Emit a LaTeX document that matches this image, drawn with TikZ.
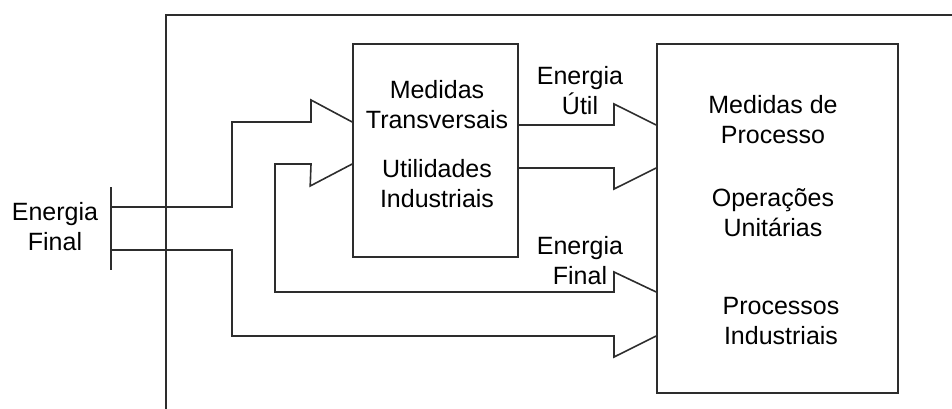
\documentclass[tikz,border=0pt]{standalone}
\usepackage{fontspec}
\setmainfont{Liberation Sans}
\usetikzlibrary{calc}
\definecolor{ink}{RGB}{45,45,45}
\tikzset{
  frame/.style={line width=1.6pt,draw=ink},
  block/.style={rectangle,line width=1.6pt,draw=ink,fill=white,inner sep=0pt},
  flow/.style={line width=1.6pt,draw=ink,line join=miter},
  txt/.style={align=center,text=black,inner sep=0pt,font=\fontsize{25}{30}\selectfont}
}
\begin{document}
\begin{tikzpicture}[x=1pt,y=-1pt]
  \useasboundingbox (0,0) rectangle (952,409);

  % outer frame (left and top edges only)
  \draw[frame] (166,409) -- (166,15) -- (952,15);

  % the two boxes
  \node[block,minimum width=165pt,minimum height=213pt] (mid) at (435.5,150.5) {};
  \node[block,minimum width=241pt,minimum height=349pt] (proc) at (777.5,218.5) {};

  % input bar
  \coordinate (bartop) at (111,187);
  \coordinate (barbot) at (111,270);
  \draw[frame] (bartop) -- (barbot);
  \coordinate (inA) at (111,207);
  \coordinate (inB) at (111,250);

  % heads of the block arrows
  \coordinate (hA) at (311,122);
  \coordinate (hB) at (311,164);
  \coordinate (hC) at (614,125);
  \coordinate (hD) at (614,168);
  \coordinate (hE) at (614,292);
  \coordinate (hF) at (614,336);

  % final energy into the middle box
  \draw[flow] (inA) -| (232,122) -- (hA) -- ++(0,-22) -- (mid.west |- hA);
  \draw[flow] (mid.west |- hB) -- ++(-42,22) -- (hB) -- (275,164) |- (hE)
              -- ++(0,-20) -- (proc.west |- hE);
  % final energy straight to the processes
  \draw[flow] (inB) -| (232,336) -- (hF) -- ++(0,21) -- (proc.west |- hF);
  % useful energy
  \draw[flow] (mid.east |- hC) -- (hC) -- ++(0,-21) -- (proc.west |- hC);
  \draw[flow] (mid.east |- hD) -- (hD) -- ++(0,21) -- (proc.west |- hD);

  % texts
  \node[txt] (efinal) at (55,227) {Energia\\Final};
  \node[txt] (transv) at (437,105) {Medidas\\Transversais};
  \node[txt] (utils) at (437,183.5) {Utilidades\\Industriais};
  \node[txt] (eutil) at (580,90.5) {Energia\\Útil};
  \node[txt] (efinal2) at (580,260.5) {Energia\\Final};
  \node[txt] (medproc) at (773,120) {Medidas de\\Processo};
  \node[txt] (opunit) at (773,212.5) {Operações\\Unitárias};
  \node[txt] (procind) at (781,321) {Processos\\Industriais};
\end{tikzpicture}
\end{document}
